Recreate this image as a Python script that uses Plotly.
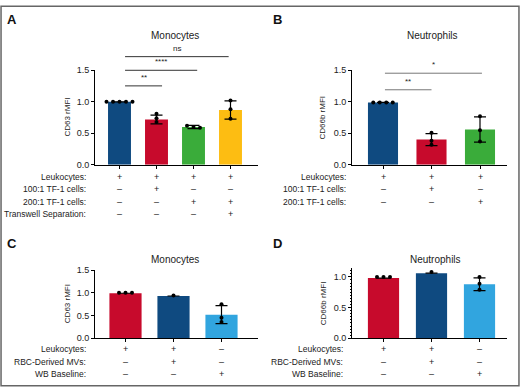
import plotly.graph_objects as go
import numpy as np

W, H = 520, 392

# ---------------- data ----------------
# Panel A: Monocytes CD63 rMFI
a_means = [1.00, 0.72, 0.60, 0.87]
a_sd = [0.0, 0.07, 0.025, 0.145]
a_points = [[1.0, 1.0, 1.0, 1.0, 1.0], [0.81, 0.74, 0.68], [0.62, 0.60, 0.59], [1.02, 0.88, 0.73]]
a_rows = ["Leukocytes:", "100:1 TF-1 cells:", "200:1 TF-1 cells:", "Transwell Separation:"]
a_table = [["+", "+", "+", "+"], ["–", "+", "–", "–"], ["–", "–", "+", "+"], ["–", "–", "–", "+"]]
a_sig = [("**", 0.15, 1.15), ("****", 0.15, 2.1), ("ns", 0.15, 2.95)]

# Panel B: Neutrophils CD66b rMFI
b_means = [0.99, 0.40, 0.56]
b_sd = [0.0, 0.095, 0.20]
b_points = [[0.99, 0.99, 0.99, 0.99], [0.51, 0.38, 0.32], [0.77, 0.55, 0.37]]
b_rows = ["Leukocytes:", "100:1 TF-1 cells:", "200:1 TF-1 cells:"]
b_table = [["+", "+", "+"], ["–", "+", "–"], ["–", "–", "+"]]
b_sig = [("**", 0.04, 1.0), ("*", 0.04, 2.04)]

# Panel C: Monocytes CD63 rMFI
c_means = [0.99, 0.93, 0.52]
c_sd = [0.0, 0.0, 0.20]
c_points = [[1.0, 1.0, 1.0], [0.94], [0.75, 0.45, 0.36]]
c_rows = ["Leukocytes:", "RBC-Derived MVs:", "WB Baseline:"]
c_table = [["+", "+", "–"], ["–", "+", "–"], ["–", "–", "+"]]

# Panel D: Neutrophils CD66b rMFI
d_means = [0.98, 1.06, 0.88]
d_sd = [0.0, 0.0, 0.105]
d_points = [[1.0, 1.0, 1.0], [1.08], [1.0, 0.89, 0.79]]
d_rows = ["Leukocytes:", "RBC-Derived MVs:", "WB Baseline:"]
d_table = [["+", "+", "–"], ["–", "+", "–"], ["–", "–", "+"]]

DBLUE = "#0f4a80"
RED = "#c70a2c"
GREEN = "#3aac3a"
YELLOW = "#fdbd12"
LBLUE = "#31a5df"

FONT = "Liberation Sans, Arial, sans-serif"
TXT = "#222222"


def fx(px):
    return px / W


def fy(py):
    return 1 - py / H


fig = go.Figure()

panels = [
    dict(key="", letter="A", lpos=(12, 14.5), title="Monocytes", tpos=(175, 31), ytitle="CD63 rMFI", ytx=68,
         means=a_means, sd=a_sd, pts=a_points, colors=[DBLUE, RED, GREEN, YELLOW],
         xpx=(95, 258), c0=119.5, step=37.0, bw=0.62, ypx=(164, 67), yr=[0, 1.5],
         ticks=[0, 0.5, 1.0, 1.5], minor=False,
         rows=a_rows, table=a_table, rowpy=[176, 189, 202, 214], lab_r=88,
         sig=a_sig, sigpy=[83, 67, 53], sigcol="#333333"),
    dict(key="2", letter="B", lpos=(277, 14.5), title="Neutrophils", tpos=(432, 31), ytitle="CD66b rMFI", ytx=323,
         means=b_means, sd=b_sd, pts=b_points, colors=[DBLUE, RED, GREEN],
         xpx=(352, 507), c0=383, step=48.5, bw=0.62, ypx=(164, 67), yr=[0, 1.5],
         ticks=[0, 0.5, 1.0, 1.5], minor=False,
         rows=b_rows, table=b_table, rowpy=[176, 189, 202], lab_r=348,
         sig=b_sig, sigpy=[87, 70], sigcol="#777777"),
    dict(key="3", letter="C", lpos=(12, 244.5), title="Monocytes", tpos=(175, 261), ytitle="CD63 rMFI", ytx=67,
         means=c_means, sd=c_sd, pts=c_points, colors=[RED, DBLUE, LBLUE],
         xpx=(95, 258), c0=125.5, step=48.0, bw=0.67, ypx=(342, 272), yr=[0, 1.5],
         ticks=[0, 0.5, 1.0, 1.5], minor=False,
         rows=c_rows, table=c_table, rowpy=[353, 366, 379], lab_r=88,
         sig=[], sigpy=[], sigcol="#333333"),
    dict(key="4", letter="D", lpos=(277, 245), title="Neutrophils", tpos=(435, 261), ytitle="CD66b rMFI", ytx=323,
         means=d_means, sd=d_sd, pts=d_points, colors=[RED, DBLUE, LBLUE],
         xpx=(352, 507), c0=383.5, step=48.0, bw=0.65, ypx=(342, 270), yr=[0, 1.143],
         ticks=[0, 0.5, 1.0], minor=True,
         rows=d_rows, table=d_table, rowpy=[353, 366, 379], lab_r=345,
         sig=[], sigpy=[], sigcol="#333333"),
]

annotations = []
shapes = []
layout_axes = {}

for p in panels:
    k = p["key"]
    xa = "x" + k
    ya = "y" + k
    n = len(p["means"])
    xs = list(range(n))
    # bars
    fig.add_trace(go.Bar(
        x=xs, y=p["means"], xaxis=xa, yaxis=ya, width=p["bw"],
        marker=dict(color=p["colors"], line=dict(width=0)),
        error_y=dict(type="data", array=p["sd"], visible=True, color="black", thickness=1.2, width=6),
        showlegend=False, hoverinfo="skip"))
    # points
    px_x, px_y = [], []
    spacing = 6.5 / p["step"]
    for i, vals in enumerate(p["pts"]):
        m = len(vals)
        spread = (max(vals) - min(vals)) < 0.06
        for j, v in enumerate(vals):
            off = (j - (m - 1) / 2) * spacing if spread else 0.0
            px_x.append(i + off)
            px_y.append(v)
    fig.add_trace(go.Scatter(
        x=px_x, y=px_y, xaxis=xa, yaxis=ya, mode="markers",
        marker=dict(color="black", size=4), cliponaxis=False,
        showlegend=False, hoverinfo="skip"))

    x0r = (p["xpx"][0] - p["c0"]) / p["step"]
    x1r = (p["xpx"][1] - p["c0"]) / p["step"]
    xdom = [fx(p["xpx"][0]), fx(p["xpx"][1])]
    ydom = [fy(p["ypx"][0]), fy(p["ypx"][1])]
    xname = "xaxis" + k
    yname = "yaxis" + k
    layout_axes[xname] = dict(
        domain=xdom, range=[x0r, x1r], anchor=ya, showgrid=False, zeroline=False,
        showline=True, linecolor="black", linewidth=1,
        ticks="outside", ticklen=3, tickcolor="black", tickwidth=1,
        tickvals=xs, showticklabels=False, fixedrange=True)
    yax = dict(
        domain=ydom, range=p["yr"], anchor=xa, showgrid=False, zeroline=False,
        showline=True, linecolor="black", linewidth=1,
        ticks="outside", ticklen=3, tickcolor="black", tickwidth=1,
        tickvals=p["ticks"], ticktext=["%.1f" % t for t in p["ticks"]],
        tickfont=dict(family=FONT, size=9, color=TXT), fixedrange=True)
    if p["minor"]:
        yax["minor"] = dict(dtick=0.05, ticklen=1.5, tickcolor="black", ticks="outside", showgrid=False)
    layout_axes[yname] = yax

    # panel letter
    annotations.append(dict(text="<b>%s</b>" % p["letter"], xref="paper", yref="paper",
                            x=fx(p["lpos"][0]), y=fy(p["lpos"][1]), showarrow=False,
                            xanchor="center", yanchor="middle",
                            font=dict(family=FONT, size=13, color="#111111")))
    # title
    annotations.append(dict(text=p["title"], xref="paper", yref="paper",
                            x=fx(p["tpos"][0]), y=fy(p["tpos"][1]), showarrow=False,
                            xanchor="center", yanchor="middle",
                            font=dict(family=FONT, size=10, color=TXT)))
    # y title
    annotations.append(dict(text=p["ytitle"], xref="paper", yref="paper", textangle=-90,
                            x=fx(p["ytx"]), y=(ydom[0] + ydom[1]) / 2, showarrow=False,
                            xanchor="center", yanchor="middle",
                            font=dict(family=FONT, size=8, color=TXT)))
    # table
    for r, (lab, py) in enumerate(zip(p["rows"], p["rowpy"])):
        annotations.append(dict(text=lab, xref="paper", yref="paper",
                                x=fx(p["lab_r"]), y=fy(py), showarrow=False,
                                xanchor="right", yanchor="middle",
                                font=dict(family=FONT, size=8.5, color=TXT)))
        for i, sym in enumerate(p["table"][r]):
            annotations.append(dict(text=sym, xref=xa, yref="paper",
                                    x=i, y=fy(py), showarrow=False,
                                    xanchor="center", yanchor="middle",
                                    font=dict(family=FONT, size=9, color=TXT)))
    # significance
    for (lab, s0, s1), py in zip(p["sig"], p["sigpy"]):
        shapes.append(dict(type="line", xref=xa, yref="paper", x0=s0, x1=s1,
                           y0=fy(py), y1=fy(py), line=dict(color=p["sigcol"], width=1)))
        annotations.append(dict(text=lab, xref=xa, yref="paper", x=(s0 + s1) / 2,
                                y=fy(py - 2), showarrow=False, xanchor="center", yanchor="bottom",
                                font=dict(family=FONT, size=8, color=TXT)))

# outer border
shapes.append(dict(type="rect", xref="paper", yref="paper", x0=0.002, x1=0.998, y0=0.003, y1=0.997,
                   line=dict(color="#666666", width=1.5)))

fig.update_layout(
    width=W, height=H, margin=dict(l=0, r=0, t=0, b=0),
    paper_bgcolor="white", plot_bgcolor="white",
    annotations=annotations, shapes=shapes, showlegend=False,
    font=dict(family=FONT, color=TXT),
    **layout_axes)

fig.write_html("out.html", config={"displayModeBar": False},
               post_script="document.body.style.margin='0';document.body.style.overflow='hidden';")
